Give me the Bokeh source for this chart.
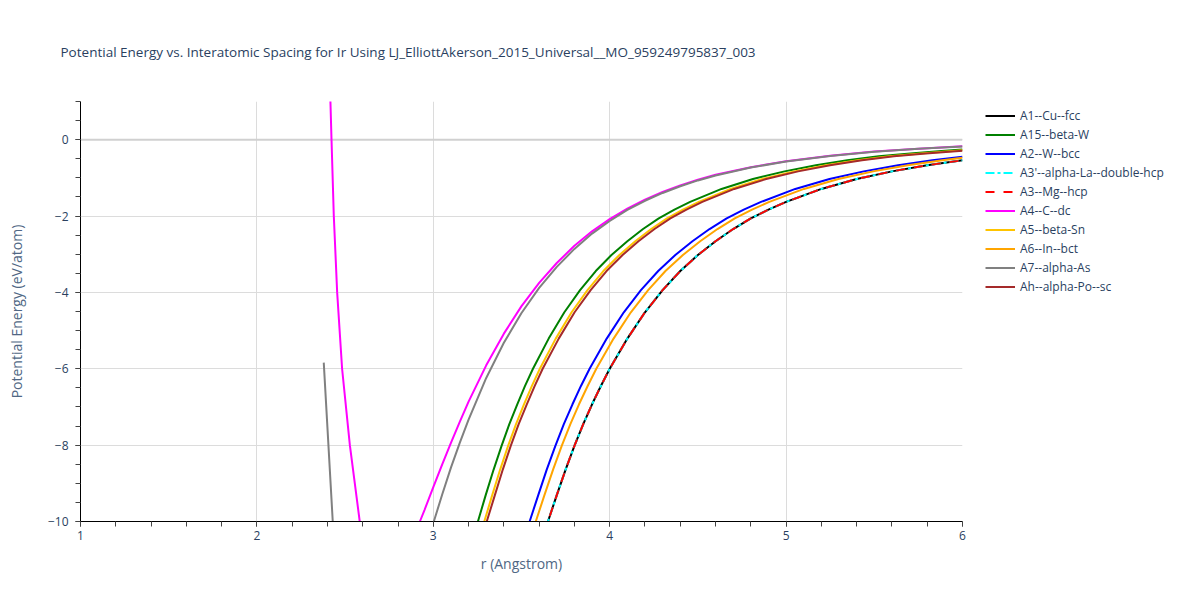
from bokeh.plotting import figure
from bokeh.models import Range1d, Legend, LegendItem, SingleIntervalTicker, CustomJSTickFormatter, Span
from bokeh.embed import file_html
from bokeh.resources import INLINE

TITLE = "Potential Energy vs. Interatomic Spacing for Ir Using LJ_ElliottAkerson_2015_Universal__MO_959249795837_003"
X_LABEL = "r (Angstrom)"
Y_LABEL = "Potential Energy (eV/atom)"

# ---- data (r in Angstrom, E in eV/atom) ----
r_a1 = [3.55, 3.60, 3.65, 3.70, 3.75, 3.80, 3.85, 3.90, 3.95, 4.00, 4.10, 4.20, 4.30, 4.40,
        4.50, 4.60, 4.70, 4.80, 4.90, 5.00, 5.20, 5.40, 5.60, 5.80, 6.00]
e_a1 = [-11.67, -10.82, -10.0, -9.31, -8.64, -8.02, -7.45, -6.93, -6.45, -6.00, -5.21, -4.52, -3.94, -3.44,
        -3.02, -2.66, -2.34, -2.06, -1.83, -1.63, -1.29, -1.03, -0.83, -0.67, -0.54]
r_a3 = r_a1
e_a3 = e_a1
r_a3p = r_a1
e_a3p = e_a1

r_a2 = [3.449, 3.497, 3.546, 3.595, 3.643, 3.692, 3.740, 3.789, 3.837, 3.886, 3.983, 4.080, 4.177, 4.275,
        4.372, 4.469, 4.566, 4.663, 4.760, 4.858, 5.052, 5.246, 5.440, 5.635, 5.829, 6.0]
e_a2 = [-11.67, -10.82, -10.0, -9.31, -8.64, -8.02, -7.45, -6.93, -6.45, -6.00, -5.21, -4.52, -3.94, -3.44,
        -3.02, -2.66, -2.34, -2.06, -1.83, -1.63, -1.29, -1.03, -0.83, -0.67, -0.54, -0.45]

r_a6 = [3.483, 3.532, 3.581, 3.630, 3.679, 3.728, 3.777, 3.826, 3.875, 3.924, 4.022, 4.120, 4.218, 4.316,
        4.415, 4.513, 4.611, 4.709, 4.807, 4.905, 5.101, 5.297, 5.494, 5.690, 5.886, 6.0]
e_a6 = [-11.67, -10.82, -10.0, -9.31, -8.64, -8.02, -7.45, -6.93, -6.45, -6.00, -5.21, -4.52, -3.94, -3.44,
        -3.02, -2.66, -2.34, -2.06, -1.83, -1.63, -1.29, -1.03, -0.83, -0.67, -0.54, -0.475]

r_ah = [3.213, 3.258, 3.303, 3.349, 3.394, 3.439, 3.484, 3.530, 3.575, 3.620, 3.711, 3.801, 3.892, 3.982,
        4.073, 4.163, 4.254, 4.344, 4.435, 4.525, 4.706, 4.887, 5.068, 5.249, 5.430, 5.611, 5.792, 6.0]
e_ah = [-11.67, -10.82, -10.0, -9.31, -8.64, -8.02, -7.45, -6.93, -6.45, -6.00, -5.21, -4.52, -3.94, -3.44,
        -3.02, -2.66, -2.34, -2.06, -1.83, -1.63, -1.29, -1.03, -0.83, -0.67, -0.54, -0.435, -0.36, -0.29]

r_a5 = [3.199, 3.244, 3.289, 3.334, 3.379, 3.424, 3.469, 3.514, 3.559, 3.604, 3.694, 3.784, 3.874, 3.964,
        4.055, 4.145, 4.235, 4.325, 4.415, 4.505, 4.685, 4.865, 5.046, 5.226, 5.406, 5.586, 5.766, 5.947, 6.0]
e_a5 = [-11.67, -10.82, -10.0, -9.31, -8.64, -8.02, -7.45, -6.93, -6.45, -6.00, -5.21, -4.52, -3.94, -3.44,
        -3.02, -2.66, -2.34, -2.06, -1.83, -1.63, -1.29, -1.03, -0.83, -0.67, -0.54, -0.435, -0.36, -0.295, -0.28]

r_a15 = [3.164, 3.208, 3.253, 3.297, 3.342, 3.387, 3.431, 3.476, 3.520, 3.565, 3.654, 3.743, 3.832, 3.921,
         4.010, 4.100, 4.189, 4.278, 4.367, 4.456, 4.634, 4.812, 4.991, 5.169, 5.347, 5.525, 5.704, 5.882, 6.0]
e_a15 = [-11.67, -10.82, -10.0, -9.31, -8.64, -8.02, -7.45, -6.93, -6.45, -6.00, -5.21, -4.52, -3.94, -3.44,
         -3.02, -2.66, -2.34, -2.06, -1.83, -1.63, -1.29, -1.03, -0.83, -0.67, -0.54, -0.435, -0.36, -0.295, -0.26]

r_a4 = [2.405, 2.417, 2.423, 2.436, 2.455, 2.483, 2.527, 2.583, 2.65, 2.75, 2.85, 2.924, 2.95, 3.0, 3.05,
        3.1, 3.15, 3.2, 3.3, 3.4, 3.5, 3.6, 3.7, 3.8, 3.9, 4.0, 4.1, 4.2, 4.3, 4.4, 4.5, 4.6, 4.8, 5.0,
        5.25, 5.5, 5.75, 6.0]
e_a4 = [2.9, 0.97, 0.0, -2.0, -4.0, -6.0, -8.0, -10.0, -11.8, -12.0, -11.2, -10.0, -9.70, -9.10, -8.51,
        -7.94, -7.39, -6.86, -5.91, -5.08, -4.36, -3.75, -3.23, -2.78, -2.40, -2.08, -1.805, -1.57, -1.37,
        -1.20, -1.05, -0.92, -0.72, -0.564, -0.42, -0.31, -0.235, -0.175]

r_a7 = [2.379, 2.43, 2.5, 2.6, 2.75, 2.9, 3.003, 3.05, 3.1, 3.15, 3.2, 3.3, 3.4, 3.5, 3.6, 3.7, 3.8, 3.9,
        4.0, 4.1, 4.2, 4.3, 4.4, 4.5, 4.6, 4.8, 5.0, 5.25, 5.5, 5.75, 6.0]
e_a7 = [-5.84, -10.0, -14.0, -15.5, -14.5, -12.0, -10.0, -9.30, -8.59, -7.94, -7.33, -6.24, -5.32, -4.54,
        -3.88, -3.33, -2.86, -2.46, -2.13, -1.84, -1.60, -1.395, -1.22, -1.067, -0.94, -0.73, -0.57, -0.427,
        -0.315, -0.238, -0.178]

series = [
    ("A1--Cu--fcc", r_a1, e_a1, "#000000", "solid"),
    ("A15--beta-W", r_a15, e_a15, "#008000", "solid"),
    ("A2--W--bcc", r_a2, e_a2, "#0000ff", "solid"),
    ("A3'--alpha-La--double-hcp", r_a3p, e_a3p, "#00ffff", "9 3 3 3"),
    ("A3--Mg--hcp", r_a3, e_a3, "#ff0000", "9 9"),
    ("A4--C--dc", r_a4, e_a4, "#ff00ff", "solid"),
    ("A5--beta-Sn", r_a5, e_a5, "#ffc400", "solid"),
    ("A6--In--bct", r_a6, e_a6, "#ffa500", "solid"),
    ("A7--alpha-As", r_a7, e_a7, "#808080", "solid"),
    ("Ah--alpha-Po--sc", r_ah, e_ah, "#a52a2a", "solid"),
]

FONT = "Open Sans"
TXT = "#2a3f5f"

p = figure(frame_width=882, frame_height=420, x_range=Range1d(1, 6), y_range=Range1d(-10, 1),
           output_backend="svg", toolbar_location=None,
           min_border_left=80, min_border_right=222, min_border_top=100, min_border_bottom=64,
           title=TITLE)
p.outline_line_color = None
p.background_fill_color = "white"
p.border_fill_color = "white"

p.title.text_font = FONT
p.title.text_font_size = "13.5px"
p.title.text_font_style = "normal"
p.title.text_color = TXT
p.title.align = "left"
p.title.offset = -20
p.title.standoff = 81

p.xaxis.ticker = SingleIntervalTicker(interval=1, num_minor_ticks=5)
p.yaxis.ticker = SingleIntervalTicker(interval=2, num_minor_ticks=4)
fmt = CustomJSTickFormatter(code="return tick < 0 ? '\u2212' + Math.abs(tick) : String(tick);")
p.yaxis.formatter = fmt
p.xaxis.axis_label = X_LABEL
p.yaxis.axis_label = Y_LABEL
for ax in (p.xaxis[0], p.yaxis[0]):
    ax.axis_line_color = "#000000"
    ax.axis_line_width = 1
    ax.major_tick_line_color = "#444444"
    ax.minor_tick_line_color = "#444444"
    ax.major_tick_out = 5
    ax.major_tick_in = 0
    ax.minor_tick_out = 5
    ax.minor_tick_in = 0
    ax.major_label_text_font = FONT
    ax.major_label_text_font_size = "12px"
    ax.major_label_text_color = TXT
    ax.axis_label_text_font = FONT
    ax.axis_label_text_font_size = "14px"
    ax.axis_label_text_font_style = "normal"
    ax.axis_label_text_color = "#506784"
p.xaxis.major_label_standoff = 4
p.yaxis.major_label_standoff = 7
p.xaxis.axis_label_standoff = 11
p.yaxis.axis_label_standoff = 19

p.xgrid.grid_line_color = "#dcdcdc"
p.ygrid.grid_line_color = "#dcdcdc"
zero = Span(location=0, dimension="width", line_color="#d0d0d0", line_width=2, level="underlay")
p.add_layout(zero)

items = []
for name, xs, ys, col, dash in series:
    r = p.line(xs, ys, line_color=col, line_width=2, line_dash=dash)
    items.append(LegendItem(label=name, renderers=[r]))

legend = Legend(items=items, location=(23, 225.5), orientation="vertical",
                glyph_width=30, glyph_height=19, label_height=19, spacing=0,
                padding=5, margin=0, label_standoff=5,
                label_text_font=FONT, label_text_font_size="12px", label_text_color=TXT,
                border_line_color=None, background_fill_alpha=0)
p.add_layout(legend, "right")

open("out.html", "w").write(file_html(p, INLINE))
